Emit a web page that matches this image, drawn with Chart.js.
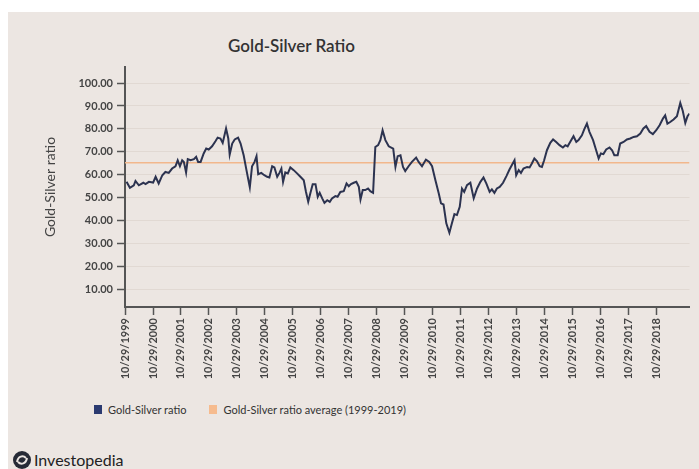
<!DOCTYPE html>
<html>
<head>
<meta charset="utf-8">
<script src="https://cdn.jsdelivr.net/npm/chart.js@4.4.1/dist/chart.umd.min.js"></script>
<style>
  body { margin: 0; background: #fff; width: 699px; height: 469px; overflow: hidden; font-family: Lato, "Open Sans", sans-serif; }
  #panel { position: absolute; left: 8px; top: 12px; width: 691px; height: 457px; background: #ece6e2; }
  #chart { position: absolute; left: 0; top: 0; }
  #title { position: absolute; left: 141px; top: 36px; width: 301px; text-align: center; font-size: 17px; font-weight: 600; color: #333; line-height: 20px; }
  #legend { position: absolute; left: 94px; top: 403px; display: flex; align-items: center; font-size: 11px; color: #333; }
  #legend .item { display: flex; align-items: center; margin-right: 23px; }
  #legend .box { width: 8px; height: 9px; margin-right: 6px; }
  #brand { position: absolute; left: 12px; top: 450px; display: flex; align-items: center; font-size: 16px; color: #222; line-height: 20px; }
  #brand svg { margin-right: 2px; }
</style>
</head>
<body>
<div id="panel"></div>
<div id="title">Gold-Silver Ratio</div>
<canvas id="chart" width="699" height="400"></canvas>
<div id="legend"></div>
<div id="brand">
  <svg width="20" height="20" viewBox="0 0 20 20"><circle cx="10" cy="10" r="9" fill="#262a36"/><path d="M5 12 C6 6, 11 5, 14 8 M15 8 C14 14, 9 15, 6 12" stroke="#ece6e2" stroke-width="2" fill="none"/></svg>
  <span>Investopedia</span>
</div>
<script>
// decimal years
const dates = [
  1999.88, 2000.00, 2000.14, 2000.20, 2000.32, 2000.48, 2000.56, 2000.68, 2000.83, 2000.92,
  2001.03, 2001.16, 2001.27, 2001.39, 2001.51, 2001.63, 2001.71, 2001.79, 2001.87, 2001.93,
  2002.01, 2002.07, 2002.17, 2002.29, 2002.37, 2002.44, 2002.53, 2002.64, 2002.73, 2002.82,
  2002.94, 2003.06, 2003.14, 2003.24, 2003.32, 2003.44, 2003.52, 2003.57, 2003.66, 2003.75,
  2003.87, 2003.96, 2004.07, 2004.17, 2004.29, 2004.37, 2004.46, 2004.53, 2004.59, 2004.70,
  2004.81, 2004.91, 2004.99, 2005.09, 2005.17, 2005.27, 2005.35, 2005.42, 2005.48, 2005.56,
  2005.65, 2005.74, 2005.86, 2005.98, 2006.10, 2006.22, 2006.30, 2006.38, 2006.46, 2006.54,
  2006.64, 2006.72, 2006.79, 2006.88, 2006.96, 2007.06, 2007.15, 2007.23, 2007.35, 2007.43,
  2007.53, 2007.65, 2007.75, 2007.83, 2007.91, 2008.01, 2008.10, 2008.19, 2008.25, 2008.33,
  2008.42, 2008.52, 2008.60, 2008.70, 2008.78, 2008.88, 2008.96, 2009.04, 2009.14, 2009.26,
  2009.42, 2009.50, 2009.58, 2009.68, 2009.77, 2009.85, 2009.97, 2010.09, 2010.24, 2010.33,
  2010.45, 2010.59, 2010.71, 2010.81, 2010.93, 2011.05, 2011.13, 2011.22, 2011.32, 2011.43,
  2011.52, 2011.61, 2011.70, 2011.80, 2011.88, 2011.96, 2012.06, 2012.18, 2012.30, 2012.42,
  2012.54, 2012.65, 2012.75, 2012.87, 2012.95, 2013.04, 2013.13, 2013.23, 2013.35, 2013.47,
  2013.58, 2013.71, 2013.76, 2013.82, 2013.91, 2013.99, 2014.08, 2014.21, 2014.30, 2014.38,
  2014.47, 2014.56, 2014.66, 2014.74, 2014.82, 2014.92, 2015.04, 2015.14, 2015.25, 2015.37,
  2015.49, 2015.58, 2015.66, 2015.75, 2015.87, 2015.97, 2016.05, 2016.17, 2016.25, 2016.35,
  2016.44, 2016.57, 2016.65, 2016.77, 2016.85, 2016.94, 2017.04, 2017.16, 2017.25, 2017.33,
  2017.45, 2017.54, 2017.66, 2017.78, 2017.90, 2018.02, 2018.14, 2018.26, 2018.37, 2018.47,
  2018.59, 2018.71, 2018.83, 2018.95, 2019.07, 2019.15, 2019.23, 2019.33, 2019.45, 2019.57,
  2019.69, 2019.78, 2019.87, 2019.95, 2020.02
];
const ratios = [
  56.9, 54.3, 55.4, 57.3, 55.4, 56.5, 55.9, 56.9, 56.6, 59.1,
  56.2, 59.8, 61.2, 60.8, 62.7, 63.7, 66.3, 63.7, 66.3, 65.6,
  61.0, 66.8, 66.3, 66.8, 67.8, 65.6, 65.6, 69.3, 71.4, 71.0,
  72.4, 74.6, 76.2, 75.8, 73.9, 80.2, 75.8, 68.8, 73.6, 75.4,
  76.2, 73.6, 68.5, 62.0, 54.5, 63.7, 65.6, 68.1, 60.2, 60.8,
  59.8, 59.1, 58.8, 63.7, 63.2, 59.1, 60.8, 62.7, 56.9, 61.0,
  60.6, 63.2, 62.0, 60.6, 59.1, 57.6, 52.5, 48.2, 52.1, 55.9,
  55.9, 50.4, 52.1, 49.7, 47.7, 48.9, 48.2, 49.7, 50.7, 50.4,
  52.5, 52.8, 56.2, 55.0, 55.9, 56.5, 56.9, 54.7, 49.2, 53.3,
  53.3, 54.0, 52.8, 52.1, 72.1, 72.9, 75.1, 79.4, 75.1, 72.4,
  71.4, 63.4, 68.1, 68.5, 63.4, 61.6, 63.7, 65.6, 67.5, 65.6,
  63.7, 66.6, 65.6, 63.7, 57.6, 51.8, 47.5, 47.0, 38.8, 34.7,
  38.8, 42.8, 42.4, 46.0, 54.0, 52.5, 55.5, 56.5, 49.7, 54.0,
  56.9, 58.8, 56.2, 52.5, 53.6, 52.1, 54.0, 54.7, 56.5, 59.4,
  62.3, 65.2, 66.3, 59.8, 62.0, 60.8, 62.7, 63.4, 63.2, 64.9,
  67.1, 66.0, 63.7, 63.4, 66.3, 70.7, 73.9, 75.4, 74.3, 72.9,
  71.9, 72.9, 72.4, 74.3, 76.8, 74.3, 75.1, 77.2, 79.7, 82.3,
  78.7, 75.1, 71.9, 67.1, 69.3, 69.0, 71.0, 71.9, 70.7, 68.5,
  68.5, 73.6, 74.3, 75.4, 75.8, 76.5, 76.8, 78.0, 80.2, 81.2,
  78.7, 77.7, 79.4, 81.6, 84.5, 85.9, 82.3, 83.0, 84.1, 85.5,
  91.3, 87.8, 82.6, 85.5, 86.7
];
const averageRatio = 65.2;
const xTickLabels = [
  '10/29/1999', '10/29/2000', '10/29/2001', '10/29/2002', '10/29/2003',
  '10/29/2004', '10/29/2005', '10/29/2006', '10/29/2007', '10/29/2008',
  '10/29/2009', '10/29/2010', '10/29/2011', '10/29/2012', '10/29/2013',
  '10/29/2014', '10/29/2015', '10/29/2016', '10/29/2017', '10/29/2018'
];
const yTickValues = [10, 20, 30, 40, 50, 60, 70, 80, 90, 100];
const seriesNames = ['Gold-Silver ratio', 'Gold-Silver ratio average (1999-2019)'];
const seriesColors = ['#2c3350', '#f2b78c'];
const legendColors = ['#2b3a70', '#f6bb8e'];

function decimalYear(label) {
  const [m, d, y] = label.split('/').map(Number);
  const start = Date.UTC(y, 0, 1);
  const day = (Date.UTC(y, m - 1, d) - start) / 86400000;
  return y + day / 365;
}

const xTickValues = xTickLabels.map(decimalYear);
const xMin = xTickValues[0];
const xMax = 2020.02;

const ratioPoints = dates.map((d, i) => ({ x: d, y: ratios[i] }));
const averagePoints = [{ x: xMin, y: averageRatio }, { x: xMax, y: averageRatio }];

const tickFont = { family: 'Lato', size: 11, weight: 'bold' };

const chart = new Chart(document.getElementById('chart'), {
  type: 'line',
  data: {
    datasets: [
      {
        label: seriesNames[0],
        data: ratioPoints,
        borderColor: seriesColors[0],
        borderWidth: 2,
        pointRadius: 0,
        tension: 0
      },
      {
        label: seriesNames[1],
        data: averagePoints,
        borderColor: seriesColors[1],
        borderWidth: 1.5,
        pointRadius: 0
      }
    ]
  },
  options: {
    responsive: false,
    animation: false,
    layout: { padding: { left: 0, right: 9.5, top: 67, bottom: 0 } },
    plugins: {
      legend: { display: false },
      tooltip: { enabled: false }
    },
    scales: {
      x: {
        type: 'linear',
        min: xMin,
        max: xMax,
        afterBuildTicks: (scale) => {
          scale.ticks = xTickValues.map(v => ({ value: v }));
        },
        afterFit: (scale) => { scale.height = 93; },
        ticks: {
          autoSkip: false,
          minRotation: 90,
          maxRotation: 90,
          padding: 3,
          color: '#444',
          font: tickFont,
          callback: (v, i) => xTickLabels[i]
        },
        grid: {
          drawOnChartArea: false,
          tickLength: 8,
          tickColor: '#555',
          tickWidth: 1.5
        },
        border: { color: '#555', width: 2 }
      },
      y: {
        min: 2.3,
        max: 107,
        afterBuildTicks: (scale) => {
          scale.ticks = yTickValues.map(v => ({ value: v }));
        },
        afterFit: (scale) => { scale.width = 125; },
        ticks: {
          padding: 4,
          color: '#444',
          font: tickFont,
          callback: (v) => v.toFixed(2)
        },
        grid: {
          color: 'rgba(150,120,110,0.12)',
          tickLength: 8,
          tickColor: '#555',
          tickWidth: 1.5
        },
        border: { color: '#555', width: 2 },
        title: {
          display: true,
          text: 'Gold-Silver ratio',
          color: '#444',
          font: { family: 'Lato', size: 14 },
          padding: { top: 41.6, bottom: 0 }
        }
      }
    }
  }
});

// html legend built from the datasets
const legendEl = document.getElementById('legend');
chart.data.datasets.forEach((ds, i) => {
  const item = document.createElement('div');
  item.className = 'item';
  const box = document.createElement('span');
  box.className = 'box';
  box.style.background = legendColors[i];
  const txt = document.createElement('span');
  txt.textContent = ds.label;
  item.appendChild(box);
  item.appendChild(txt);
  legendEl.appendChild(item);
});
</script>
</body>
</html>
